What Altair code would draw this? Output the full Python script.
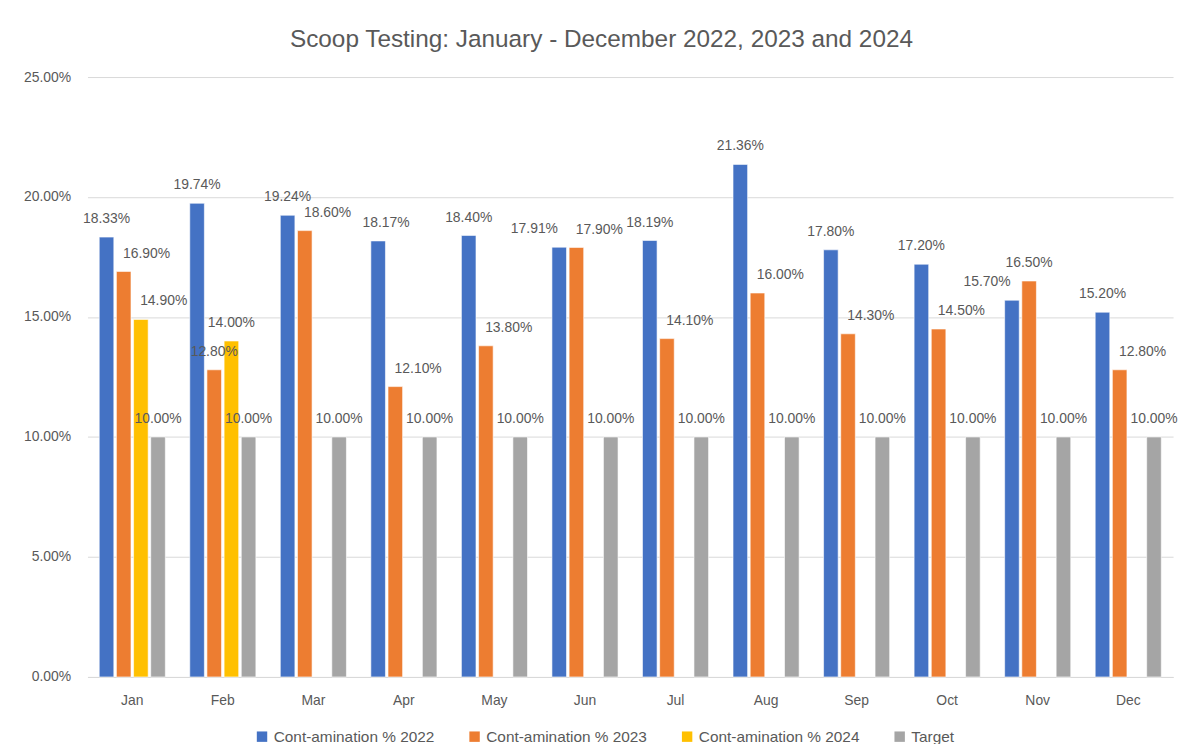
import altair as alt
import pandas as pd

months = ["Jan", "Feb", "Mar", "Apr", "May", "Jun", "Jul", "Aug", "Sep", "Oct", "Nov", "Dec"]
series = ["Cont-amination % 2022", "Cont-amination % 2023", "Cont-amination % 2024", "Target"]
v2022 = [18.33, 19.74, 19.24, 18.17, 18.40, 17.91, 18.19, 21.36, 17.80, 17.20, 15.70, 15.20]
v2023 = [16.90, 12.80, 18.60, 12.10, 13.80, 17.90, 14.10, 16.00, 14.30, 14.50, 16.50, 12.80]
v2024 = [14.90, 14.00, None, None, None, None, None, None, None, None, None, None]
target = [10.00] * 12
colors = ["#4472C4", "#ED7D31", "#FFC000", "#A5A5A5"]

# which data labels sit beside (not centred over) their bar, as in the reference
labels_right = {(m, series[1]) for m in months if m not in ("Feb", "Nov")} | {("Jan", series[2])}
labels_left = {("Jun", series[0]), ("Nov", series[0])}
labels_slight = {("Apr", series[0])}

rows = []
for vals, s in zip([v2022, v2023, v2024, target], series):
    for m, v in zip(months, vals):
        if v is not None:
            key = (m, s)
            side = ("r" if key in labels_right else "l" if key in labels_left
                    else "s" if key in labels_slight else "c")
            rows.append({"month": m, "series": s, "value": v / 100.0, "side": side})
df = pd.DataFrame(rows)

FONT = "Liberation Sans"
TXT = "#595959"

x = alt.X("month:N", sort=months, title=None,
          scale=alt.Scale(paddingInner=0.27, paddingOuter=0.13),
          axis=alt.Axis(labelAngle=0, ticks=False, domainColor="#D9D9D9", labelPadding=17,
                        labelFontSize=14, labelColor=TXT, labelFont=FONT))
xo = alt.XOffset("series:N", sort=series, scale=alt.Scale(domain=series, paddingInner=0.15))
y = alt.Y("value:Q", title=None,
          scale=alt.Scale(domain=[0, 0.25]),
          axis=alt.Axis(format=".2%", values=[0, 0.05, 0.10, 0.15, 0.20, 0.25], ticks=False,
                        domain=False, gridColor="#D9D9D9", labelPadding=17,
                        labelFontSize=14, labelColor=TXT, labelFont=FONT))

base = alt.Chart(df)

bars = base.mark_bar(stroke="white", strokeWidth=0.6).encode(
    x=x, xOffset=xo, y=y,
    color=alt.Color("series:N", sort=series,
                    scale=alt.Scale(domain=series, range=colors),
                    legend=alt.Legend(title=None, orient="none", direction="horizontal",
                                      legendX=168, legendY=656, symbolType="square",
                                      symbolSize=110, symbolStrokeWidth=0,
                                      labelFontSize=15.5, labelColor=TXT, labelFont=FONT,
                                      labelLimit=400, labelOffset=4, columnPadding=32)),
)


def label_layer(side, dx):
    return base.mark_text(baseline="middle", align="center", dy=-18, dx=dx, fontSize=14,
                          color=TXT, font=FONT).encode(
        x=x, xOffset=xo, y=y, text=alt.Text("value:Q", format=".2%")
    ).transform_filter(alt.datum.side == side)


chart = alt.layer(
    bars,
    label_layer("c", 0),
    label_layer("r", 23),
    label_layer("l", -25),
    label_layer("s", 8),
).properties(
    width=1093, height=604,
    background="white",
    title=alt.TitleParams("Scoop Testing: January - December 2022, 2023 and 2024",
                          fontSize=24.5, font=FONT, color=TXT, fontWeight="normal",
                          anchor="middle", dx=-29, offset=18),
    autosize=alt.AutoSizeParams(type="none"),
    padding={"left": 80, "top": 67, "right": 8, "bottom": 65},
).configure_view(stroke=None)

chart.save("out.html", embed_options={"renderer": "svg", "actions": False})
